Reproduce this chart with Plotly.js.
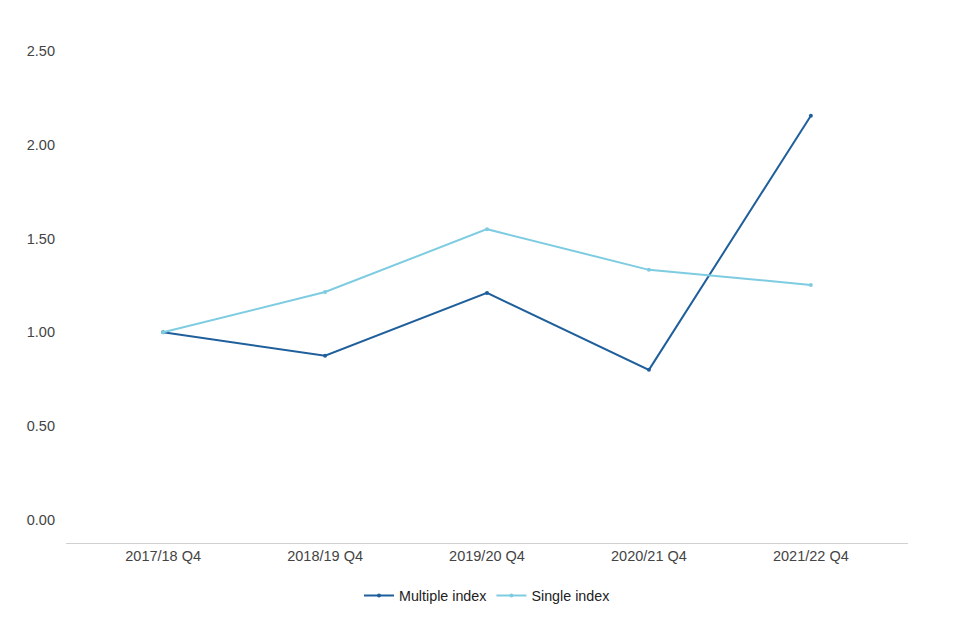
<!DOCTYPE html>
<html>
<head>
<meta charset="utf-8">
<script src="https://cdn.plot.ly/plotly-3.0.1.min.js"></script>
<style>
  html, body { margin: 0; padding: 0; background: #fff; }
  #chart { width: 960px; height: 640px; }
</style>
</head>
<body>
<div id="chart"></div>
<script>
(function () {
  "use strict";

  var quarters = ["2017/18 Q4", "2018/19 Q4", "2019/20 Q4", "2020/21 Q4", "2021/22 Q4"];
  var multipleIndex = [1.00, 0.875, 1.21, 0.80, 2.155];
  var singleIndex = [1.00, 1.215, 1.55, 1.333, 1.253];
  var yTicks = [0, 0.5, 1, 1.5, 2, 2.5];

  var font = { family: "Liberation Sans, Arial, sans-serif", size: 14.5, color: "#444444" };

  function series(name, values, colour) {
    return {
      type: "scatter",
      mode: "lines+markers",
      name: name,
      x: quarters,
      y: values,
      line: { color: colour, width: 2 },
      marker: { color: colour, size: 4 },
      hovertemplate: "%{x}: %{y:.2f}<extra>" + name + "</extra>"
    };
  }

  Plotly.newPlot("chart", [
    series("Multiple index", multipleIndex, "#1f5f9b"),
    series("Single index", singleIndex, "#7ecce2")
  ], {
    font: font,
    width: 960,
    height: 640,
    margin: { t: 20, r: 52, b: 97, l: 66 },
    paper_bgcolor: "#ffffff",
    plot_bgcolor: "#ffffff",
    showlegend: true,
    legend: {
      orientation: "h",
      x: 0.5,
      xanchor: "center",
      y: -0.101,
      yanchor: "middle",
      font: { family: font.family, size: 14.3, color: "#222222" }
    },
    xaxis: {
      type: "category",
      range: [-0.6, 4.6],
      showgrid: false,
      showline: true,
      linecolor: "#d0d0d0",
      linewidth: 1,
      ticks: "",
      ticklen: 0,
      tickfont: { size: 14.5, color: "#444444" },
      fixedrange: true
    },
    yaxis: {
      range: [-0.123, 2.665],
      tickvals: yTicks,
      tickformat: ".2f",
      showgrid: false,
      zeroline: false,
      showline: false,
      ticks: "",
      ticklabelstandoff: 10,
      tickfont: { size: 14.5, color: "#444444" },
      fixedrange: true
    }
  }, { displayModeBar: false, responsive: false });
}());
</script>
</body>
</html>
